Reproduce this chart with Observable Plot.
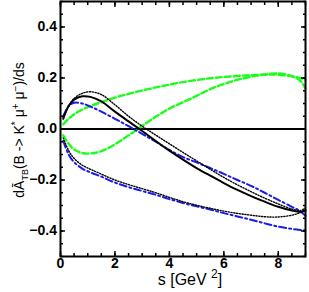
<!DOCTYPE html>
<html><head><meta charset="utf-8">
<script src="https://cdn.jsdelivr.net/npm/d3@7"></script>
<script src="https://cdn.jsdelivr.net/npm/@observablehq/plot@0.6"></script>
<style>html,body{margin:0;padding:0;background:#fff} svg{display:block}</style>
</head><body><div id="chart"></div>
<script>
// s values (GeV^2)
const s = [0.1, 0.3, 0.5, 0.8, 1.1, 1.5, 2, 2.5, 3, 3.5, 4, 4.5, 5, 5.5, 6, 6.5, 7, 7.5, 8, 8.5, 8.8, 9];
// black solid
const blackSolid = [0.04, 0.09, 0.115, 0.128, 0.126, 0.108, 0.068, 0.03, -0.008, -0.047, -0.085, -0.12, -0.153, -0.183, -0.212, -0.239, -0.263, -0.285, -0.305, -0.32, -0.325, -0.32];
// black dotted, upper branch
const blackDotUpper = [0.045, 0.09, 0.12, 0.14, 0.146, 0.135, 0.095, 0.05, 0.011, -0.024, -0.058, -0.092, -0.125, -0.158, -0.19, -0.219, -0.246, -0.271, -0.294, -0.314, -0.32, -0.31];
// black dotted, lower branch
const blackDotLower = [-0.035, -0.085, -0.115, -0.142, -0.158, -0.177, -0.2, -0.218, -0.234, -0.25, -0.268, -0.285, -0.299, -0.311, -0.322, -0.331, -0.338, -0.344, -0.345, -0.338, -0.328, -0.315];
// blue dash-dot, upper branch
const blueUpper = [0.05, 0.09, 0.103, 0.1, 0.088, 0.068, 0.04, 0.011, -0.019, -0.05, -0.082, -0.11, -0.131, -0.153, -0.176, -0.2, -0.223, -0.25, -0.278, -0.305, -0.322, -0.34];
// blue dash-dot, lower branch
const blueLower = [-0.047, -0.1, -0.13, -0.155, -0.17, -0.187, -0.21, -0.228, -0.243, -0.258, -0.275, -0.29, -0.303, -0.316, -0.33, -0.343, -0.356, -0.37, -0.383, -0.392, -0.396, -0.398];
// green dashed, starting positive
const greenUpper = [0.018, 0.04, 0.058, 0.076, 0.09, 0.105, 0.123, 0.138, 0.151, 0.163, 0.174, 0.184, 0.192, 0.199, 0.204, 0.208, 0.211, 0.213, 0.213, 0.207, 0.2, 0.193];
// green dashed, starting negative
const greenLower = [-0.025, -0.058, -0.08, -0.094, -0.096, -0.087, -0.06, -0.025, 0.012, 0.048, 0.08, 0.105, 0.13, 0.156, 0.176, 0.193, 0.205, 0.214, 0.218, 0.207, 0.19, 0.16];

const xMajor = [0, 2, 4, 6, 8];
const xMinor = d3.range(0, 9.001, 0.5);
const yMajor = [-0.4, -0.2, 0, 0.2, 0.4];
const yMinor = d3.range(-10, 11).map(i => i * 0.05);

const rows = arr => s.map((x, i) => ({s: x, v: arr[i]}));
const lineOpts = {x: "s", y: "v", curve: "catmull-rom"};
const green = "#1aff1a", blue = "#1a1aee";
const font = "'Liberation Sans', Arial, sans-serif";

const chart = Plot.plot({
  width: 309, height: 292,
  marginLeft: 60, marginRight: 4, marginTop: 1, marginBottom: 36,
  x: {domain: [0, 9]},
  y: {domain: [-0.5, 0.5]},
  style: {fontFamily: font, fontSize: "14px", fontWeight: "bold", background: "white", color: "black"},
  marks: [
    Plot.ruleY([0], {strokeWidth: 2}),
    Plot.line(rows(greenUpper), {...lineOpts, stroke: green, strokeWidth: 2.4, strokeDasharray: "6,3"}),
    Plot.line(rows(greenLower), {...lineOpts, stroke: green, strokeWidth: 2.4, strokeDasharray: "6,3"}),
    Plot.line(rows(blueUpper), {...lineOpts, stroke: blue, strokeWidth: 2, strokeDasharray: "7,3,2,3"}),
    Plot.line(rows(blueLower), {...lineOpts, stroke: blue, strokeWidth: 2, strokeDasharray: "7,3,2,3"}),
    Plot.line(rows(blackDotUpper), {...lineOpts, stroke: "black", strokeWidth: 1.4, strokeDasharray: "1.2,1.6"}),
    Plot.line(rows(blackDotLower), {...lineOpts, stroke: "black", strokeWidth: 1.4, strokeDasharray: "1.2,1.6"}),
    Plot.line(rows(blackSolid), {...lineOpts, stroke: "black", strokeWidth: 2}),
    Plot.axisX(xMinor, {anchor: "bottom", tickSize: -3, strokeWidth: 1.5, fill: "none", label: null}),
    Plot.axisX(xMinor, {anchor: "top", tickSize: -3, strokeWidth: 1.5, fill: "none", label: null}),
    Plot.axisX(xMajor, {anchor: "bottom", tickSize: -5, tickPadding: 7, strokeWidth: 1.5, fontWeight: "bold", fontSize: 14, label: null}),
    Plot.axisX(xMajor, {anchor: "top", tickSize: -5, strokeWidth: 1.5, fill: "none", label: null}),
    Plot.axisY(yMinor, {anchor: "left", tickSize: -3, strokeWidth: 1.5, fill: "none", label: null}),
    Plot.axisY(yMinor, {anchor: "right", tickSize: -3, strokeWidth: 1.5, fill: "none", label: null}),
    Plot.axisY(yMajor, {anchor: "left", tickSize: -5, tickPadding: 8.5, strokeWidth: 1.5, fontWeight: "bold", fontSize: 14, label: null}),
    Plot.axisY(yMajor, {anchor: "right", tickSize: -5, strokeWidth: 1.5, fill: "none", label: null}),
    Plot.frame({stroke: "black", strokeWidth: 2})
  ]
});

const svg = d3.select(chart);
// x-axis title
const xt = svg.append("text")
  .attr("x", 190).attr("y", 285)
  .attr("text-anchor", "middle")
  .attr("font-family", font)
  .attr("font-size", 16).attr("font-weight", "normal").attr("fill", "black");
xt.append("tspan").text("s [GeV ");
xt.append("tspan").attr("dy", -7).attr("font-size", 12).text("2");
xt.append("tspan").attr("dy", 7).text("]");

// y-axis title
const yt = svg.append("text")
  .attr("transform", "translate(24,130) rotate(-90)")
  .attr("text-anchor", "middle")
  .attr("font-family", font)
  .attr("font-size", 14).attr("font-weight", "normal").attr("fill", "black");
yt.append("tspan").text("d\u0100");
yt.append("tspan").attr("dy", 4).attr("font-size", 9).text("TB");
yt.append("tspan").attr("dy", -4).text("(B -> K");
yt.append("tspan").attr("dy", -5).attr("font-size", 10).text("*");
yt.append("tspan").attr("dy", 5).text(" \u03bc");
yt.append("tspan").attr("dy", -5).attr("font-size", 10).text("+");
yt.append("tspan").attr("dy", 5).text(" \u03bc");
yt.append("tspan").attr("dy", -5).attr("font-size", 10).text("\u2212");
yt.append("tspan").attr("dy", 5).text(")/ds");

document.getElementById("chart").appendChild(chart);
</script>
</body></html>
